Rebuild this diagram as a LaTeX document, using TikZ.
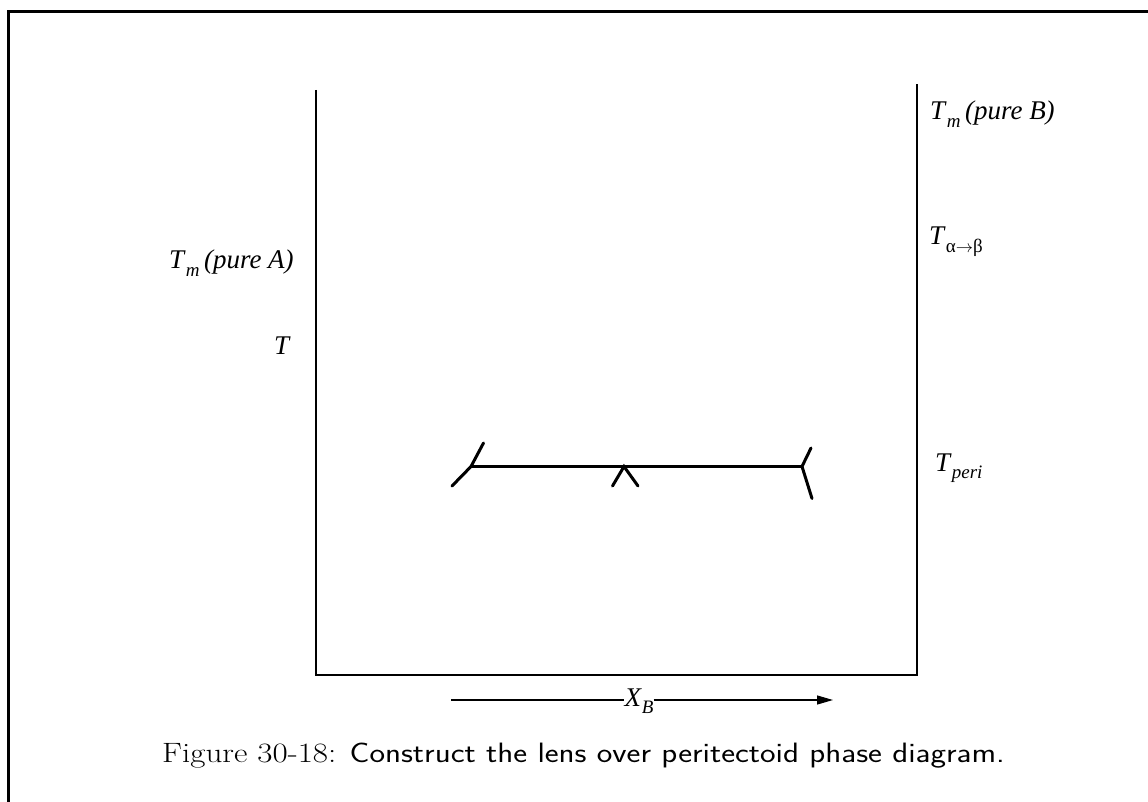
\documentclass[tikz,border=0pt]{standalone}
\usepackage{fontspec}
\usetikzlibrary{arrows.meta}
\newfontfamily\lblfont{Liberation Serif}
\newcommand{\Tlbl}[1]{\textit{T}\raisebox{-0.27em}{\fontsize{19}{21}\selectfont\itshape #1}}
\begin{document}
\begin{tikzpicture}[x=1pt,y=-1pt,
  axisline/.style={line width=1.4pt},
  tieline/.style={line width=3pt,line cap=round},
  lbl/.style={inner sep=0pt,anchor=base west,font=\lblfont\fontsize{27}{31}\selectfont},
  framestyle/.style={line width=3pt}]
\useasboundingbox (0,0) rectangle (1148,802);
% frame
\draw[framestyle] (8.5,802) -- (8.5,12) -- (1148,12);
% axes
\coordinate (lt) at (316,90);
\coordinate (lb) at (316,675);
\coordinate (rb) at (917,675);
\coordinate (rt) at (917,84);
\draw[axisline] (lt) -- (lb) -- (rb) -- (rt);
% tie line with ticks
\coordinate (tl) at (471,466.5);
\coordinate (tr) at (802,466.5);
\coordinate (tm) at (624,466.5);
\coordinate (tlu) at (483.5,443);
\coordinate (tld) at (452,486);
\coordinate (tru) at (811,448);
\coordinate (trd) at (812,498.5);
\coordinate (tml) at (612.5,486);
\coordinate (tmr) at (638,486);
\draw[tieline] (tl) -- (tr);
\draw[tieline] (tld) -- (tl) -- (tlu);
\draw[tieline] (tru) -- (tr) -- (trd);
\draw[tieline] (tml) -- (tm) -- (tmr);
% labels
\node[lbl] (pB) at (930,120) {\Tlbl{m}\,\textit{(pure B)}};
\node[lbl] (ab) at (929,245) {\Tlbl{\upshape α$\rightarrow$β}};
\node[lbl] (pA) at (169,269) {\Tlbl{m}\,\textit{(pure A)}};
\node[lbl] (T) at (274,354) {\textit{T}};
\node[lbl] (peri) at (935,471) {\Tlbl{peri}};
% X_B arrow
\node[lbl,anchor=base] (xb) at (639,706) {\textit{X}\raisebox{-0.27em}{\fontsize{19}{21}\selectfont\itshape B}};
\coordinate (as) at (451,700);
\coordinate (ae) at (833,700);
\draw[line width=1.2pt] (as) -- (xb.west |- as);
\draw[line width=1.2pt,-{Triangle[length=16pt,width=9pt]}] (xb.east |- ae) -- (ae);
% caption
\node[inner sep=0pt,anchor=base west,font=\fontsize{28}{32}\selectfont] (cap) at (162,762) {\scalebox{1.18}[1]{Figure 30-18: \textsf{Construct the lens over peritectoid phase diagram.}}};
\end{tikzpicture}
\end{document}
